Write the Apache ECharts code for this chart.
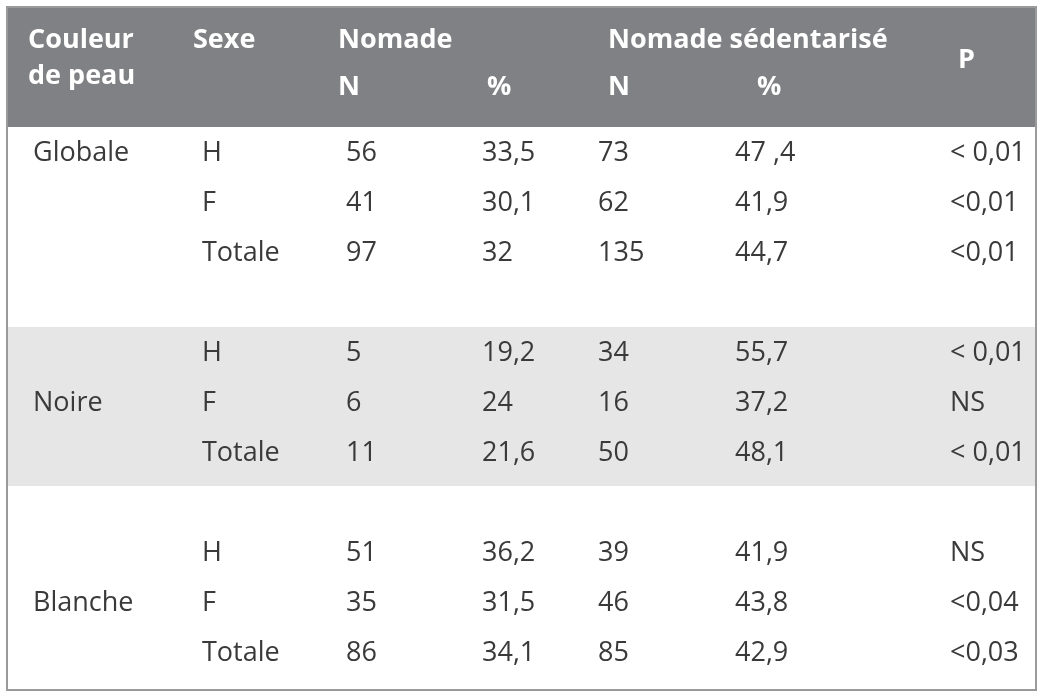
<!DOCTYPE html>
<html><head><meta charset="utf-8">
<script src="https://cdn.jsdelivr.net/npm/echarts@6/dist/echarts.min.js"></script>
<style>html,body{margin:0;padding:0;background:#fff}#c{width:1044px;height:697px}</style>
</head><body><div id="c"></div>
<script>
const groups = ["Globale", "Noire", "Blanche"];
const sexes = ["H", "F", "Totale"];
const nomadeN = [[56,41,97],[5,6,11],[51,35,86]];
const nomadePct = [["33,5","30,1","32"],["19,2","24","21,6"],["36,2","31,5","34,1"]];
const sedN = [[73,62,135],[34,16,50],[39,46,85]];
const sedPct = [["47 ,4","41,9","44,7"],["55,7","37,2","48,1"],["41,9","43,8","42,9"]];
const pVals = [["< 0,01","<0,01","<0,01"],["< 0,01","NS","< 0,01"],["NS","<0,04","<0,03"]];

const F = '"Source Sans Pro","Open Sans","Noto Sans",sans-serif';
const g = [];
// background bands
g.push({type:'rect',shape:{x:7,y:7,width:1029,height:120},style:{fill:'#808184'}});
g.push({type:'rect',shape:{x:7,y:327,width:1029,height:159},style:{fill:'#e6e6e7'}});
g.push({type:'rect',shape:{x:7,y:7,width:1029,height:683},style:{fill:'none',stroke:'#9a9a9a',lineWidth:2}});
function t(x,y,s,bold,color){g.push({type:'text',x:x,y:y,style:{text:String(s),fill:color,font:(bold?'bold ':'')+'27px '+F,textVerticalAlign:'middle',textAlign:'left'}});}
const W='#fff';
t(28,40,'Couleur',1,W);t(28,76,'de peau',1,W);t(193,40,'Sexe',1,W);
t(338,40,'Nomade',1,W);t(338,87,'N',1,W);t(487,87,'%',1,W);
t(608,40,'Nomade sédentarisé',1,W);t(608,87,'N',1,W);t(757,87,'%',1,W);t(958,60,'P',1,W);
const groupTop=[153,353,553];
const C='#3a3a3a';
for(let i=0;i<3;i++){
  t(33,groupTop[i]+(i===0?0:50),groups[i],0,C);
  for(let j=0;j<3;j++){
    const y=groupTop[i]+50*j;
    t(202,y,sexes[j],0,C);t(346,y,nomadeN[i][j],0,C);t(482,y,nomadePct[i][j],0,C);
    t(598,y,sedN[i][j],0,C);t(735,y,sedPct[i][j],0,C);t(950,y,pVals[i][j],0,C);
  }
}
const chart=echarts.init(document.getElementById('c'));
chart.setOption({animation:false,graphic:g});
</script></body></html>
